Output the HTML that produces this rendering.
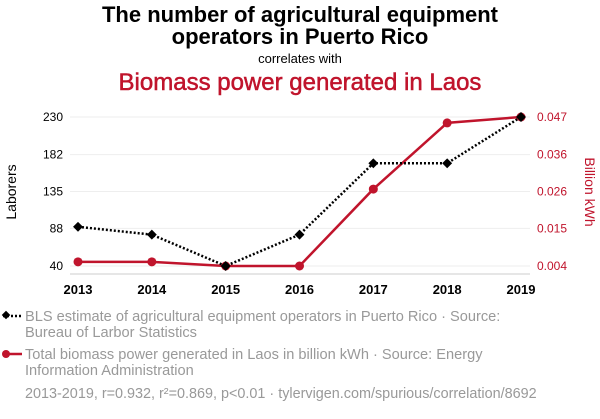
<!DOCTYPE html>
<html><head><meta charset="utf-8"><style>
body{margin:0;background:#fff;font-family:"Liberation Sans",sans-serif;}
svg text{font-family:"Liberation Sans",sans-serif;}
</style></head><body>
<svg width="600" height="414" viewBox="0 0 600 414">
<text x="300" y="22" text-anchor="middle" font-size="22" font-weight="bold" fill="#000">The number of agricultural equipment</text>
<text x="300" y="44" text-anchor="middle" font-size="22" font-weight="bold" fill="#000">operators in Puerto Rico</text>
<text x="300" y="63" text-anchor="middle" font-size="13" fill="#000">correlates with</text>
<text x="300" y="90" text-anchor="middle" font-size="24" fill="#c0142c" stroke="#c0142c" stroke-width="0.5">Biomass power generated in Laos</text>
<g id="grid"></g>
<g id="axes"></g>
<g id="series"></g>
<text transform="translate(16,192) rotate(-90)" text-anchor="middle" font-size="14" fill="#000">Laborers</text>
<text transform="translate(585,192) rotate(90)" text-anchor="middle" font-size="14" fill="#c0142c">Billion kWh</text>
<g>
<line x1="3" y1="316" x2="22" y2="316" stroke="#000" stroke-width="2.5" stroke-dasharray="2,2"/>
<rect x="3" y="312" width="6" height="6" transform="rotate(45 6 315)" fill="#000"/>
<text x="25" y="321" font-size="14.6" fill="#999">BLS estimate of agricultural equipment operators in Puerto Rico · Source:</text>
<text x="25" y="337" font-size="14.6" fill="#999">Bureau of Larbor Statistics</text>
</g>
<g>
<line x1="3" y1="354" x2="22" y2="354" stroke="#c0142c" stroke-width="2.5"/>
<circle cx="6" cy="354" r="4" fill="#c0142c"/>
<text x="25" y="359" font-size="14.6" fill="#999">Total biomass power generated in Laos in billion kWh · Source: Energy</text>
<text x="25" y="375" font-size="14.6" fill="#999">Information Administration</text>
</g>
<text x="25" y="398" font-size="14.4" fill="#999">2013-2019, r=0.932, r²=0.869, p&lt;0.01 · tylervigen.com/spurious/correlation/8692</text>
</svg>
<script>
const years=[2013,2014,2015,2016,2017,2018,2019];
const laborers=[90,80,40,80,171,171,230];
const biomass=[0.0052,0.0052,0.004,0.004,0.0262,0.0453,0.047];
const leftTicks=[40,88,135,182,230];
const rightTicks=["0.004","0.015","0.026","0.036","0.047"];
const NS="http://www.w3.org/2000/svg";
const x=y=>78+(y-2013)*(521-78)/6;
const yL=v=>266-(v-40)*(266-117)/190;
const yR=v=>266-(v-0.004)*(266-117)/0.043;
function mk(tag,attrs,parent){const e=document.createElementNS(NS,tag);for(const k in attrs)e.setAttribute(k,attrs[k]);document.querySelector(parent).appendChild(e);return e;}
leftTicks.forEach((t,i)=>{const yy=yL(t);
 const g=mk('line',{x1:70,x2:530,y1:yy,y2:yy,stroke:'#eee','stroke-width':1},'#grid');
 
 
 const a=mk('text',{x:63,y:yy+4,'text-anchor':'end','font-size':12,fill:'#000'},'#axes');a.textContent=t;
 
 
 const b=mk('text',{x:537,y:yy+4,'font-size':12,fill:'#c0142c'},'#axes');b.textContent=rightTicks[i];
 
 
});
const base=mk('line',{x1:70,x2:530,y1:274,y2:274,stroke:'#ccc'},'#axes');


years.forEach(yr=>{const t=mk('text',{x:x(yr),y:294,'text-anchor':'middle','font-size':13,'font-weight':'bold',fill:'#000'},'#axes');t.textContent=yr;
 
 });
const rl=mk('polyline',{points:years.map((yr,i)=>x(yr)+','+yR(biomass[i])).join(' '),fill:'none',stroke:'#c0142c','stroke-width':2.5},'#series');


const bl=mk('polyline',{points:years.map((yr,i)=>x(yr)+','+yL(laborers[i])).join(' '),fill:'none',stroke:'#000','stroke-width':2.5,'stroke-dasharray':'2,2'},'#series');


years.forEach((yr,i)=>{
 const c=mk('circle',{cx:x(yr),cy:yR(biomass[i]),r:4.5,fill:'#c0142c'},'#series');
 
 
 const cx=x(yr),cy=yL(laborers[i]);
 const d=mk('rect',{x:cx-3.5,y:cy-3.5,width:7,height:7,fill:'#000',transform:`rotate(45 ${cx} ${cy})`},'#series');
 
 
});
</script>
</body></html>
